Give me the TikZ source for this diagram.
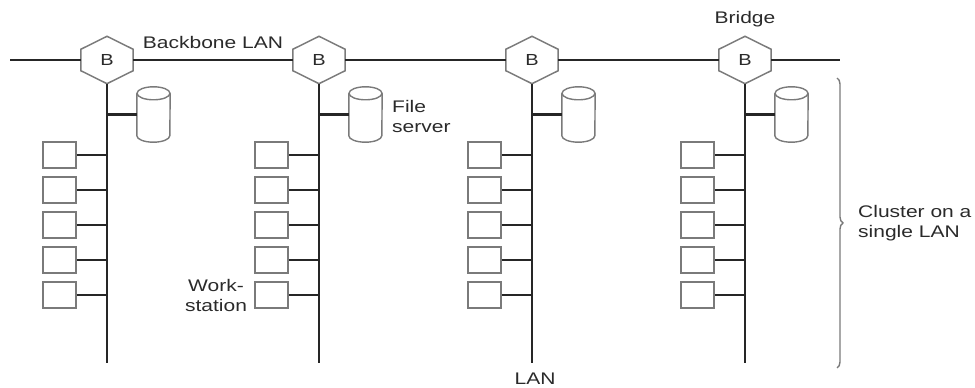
\documentclass[tikz,border=0pt]{standalone}
\usepackage{fontspec}
\setmainfont{Liberation Sans}[FakeStretch=1.25]
\usetikzlibrary{decorations.pathreplacing,calc}
\definecolor{ink}{HTML}{262626}
\definecolor{edge}{HTML}{7A7A7A}
\definecolor{txt}{HTML}{2A2A2A}
\tikzset{
 net/.style={draw=ink,line width=2.2pt},
 hexlbl/.style={minimum width=52pt,minimum height=21pt,inner sep=0pt,font=\fontsize{16}{18}\selectfont,text=txt},
 hexline/.style={draw=edge,line width=1.5pt,line join=miter},
 ws/.style={draw=edge,line width=1.5pt,minimum width=33pt,minimum height=26pt,inner sep=0pt},
 cylbox/.style={minimum width=33pt,minimum height=55pt,inner sep=0pt},
 cylline/.style={draw=edge,line width=1.4pt},
 lbl/.style={font=\fontsize{16.8}{20}\selectfont,text=txt,inner sep=0pt},
 bracestyle/.style={draw=edge,line width=1.4pt,decorate,decoration={brace,amplitude=6pt}},
}
\begin{document}
\begin{tikzpicture}[x=1pt,y=1pt]
\useasboundingbox (0,0) rectangle (975,388);
\foreach \i/\xx in {1/107,2/319,3/532,4/745} {
  \node[hexlbl] (B\i) at (\xx,328) {B};
  \draw[hexline] (B\i.north west) -- ($(B\i.north)+(0,13)$) -- (B\i.north east) -- (B\i.south east) -- ($(B\i.south)+(0,-13)$) -- (B\i.south west) -- cycle;
  \coordinate (T\i) at ($(B\i.south)+(0,-13)$);
  \coordinate (E\i) at (\xx,25);
  \draw[net] (T\i) -- (E\i);
  \node[cylbox] (C\i) at (\xx+46.5,273.5) {};
  \draw[cylline] ($(C\i.north)+(0,-6.5)$) ellipse [x radius=16.5, y radius=6.5];
  \draw[cylline] ($(C\i.north west)+(0,-6.5)$) -- ($(C\i.south west)+(0,6.5)$) arc[start angle=180,end angle=360,x radius=16.5,y radius=6.5] -- ($(C\i.north east)+(0,-6.5)$);
  \draw[net] (C\i.west) -- (C\i.west -| B\i);
  \foreach \j in {1,...,5} {
    \node[ws] (W\i\j) at (\xx-47.5, 233-35*\j+35) {};
    \draw[net] (W\i\j.east) -- (W\i\j.east -| B\i);
  }
}
\coordinate (BL) at (10,328);
\coordinate (BR) at (840,328);
\draw[net] (BL) -- (B1.west);
\draw[net] (B1.east) -- (B2.west);
\draw[net] (B2.east) -- (B3.west);
\draw[net] (B3.east) -- (B4.west);
\draw[net] (B4.east) -- (BR);
\node[lbl] (bbl) at (213,345) {Backbone LAN};
\node[lbl] (brl) at (745,369) {Bridge};
\node[lbl, anchor=west, align=left] (fsl) at (392,272) {File\\server};
\node[lbl, align=center] (wsl) at (216,93) {Work-\\station};
\node[lbl, anchor=west, align=left] (cl) at (858,165) {Cluster on a\\single LAN};
\node[lbl] (lanl) at (535,9.5) {LAN};
\coordinate (brT) at (837,310);
\coordinate (brB) at (837,20);
\draw[bracestyle] (brT) -- (brB);
\end{tikzpicture}
\end{document}
